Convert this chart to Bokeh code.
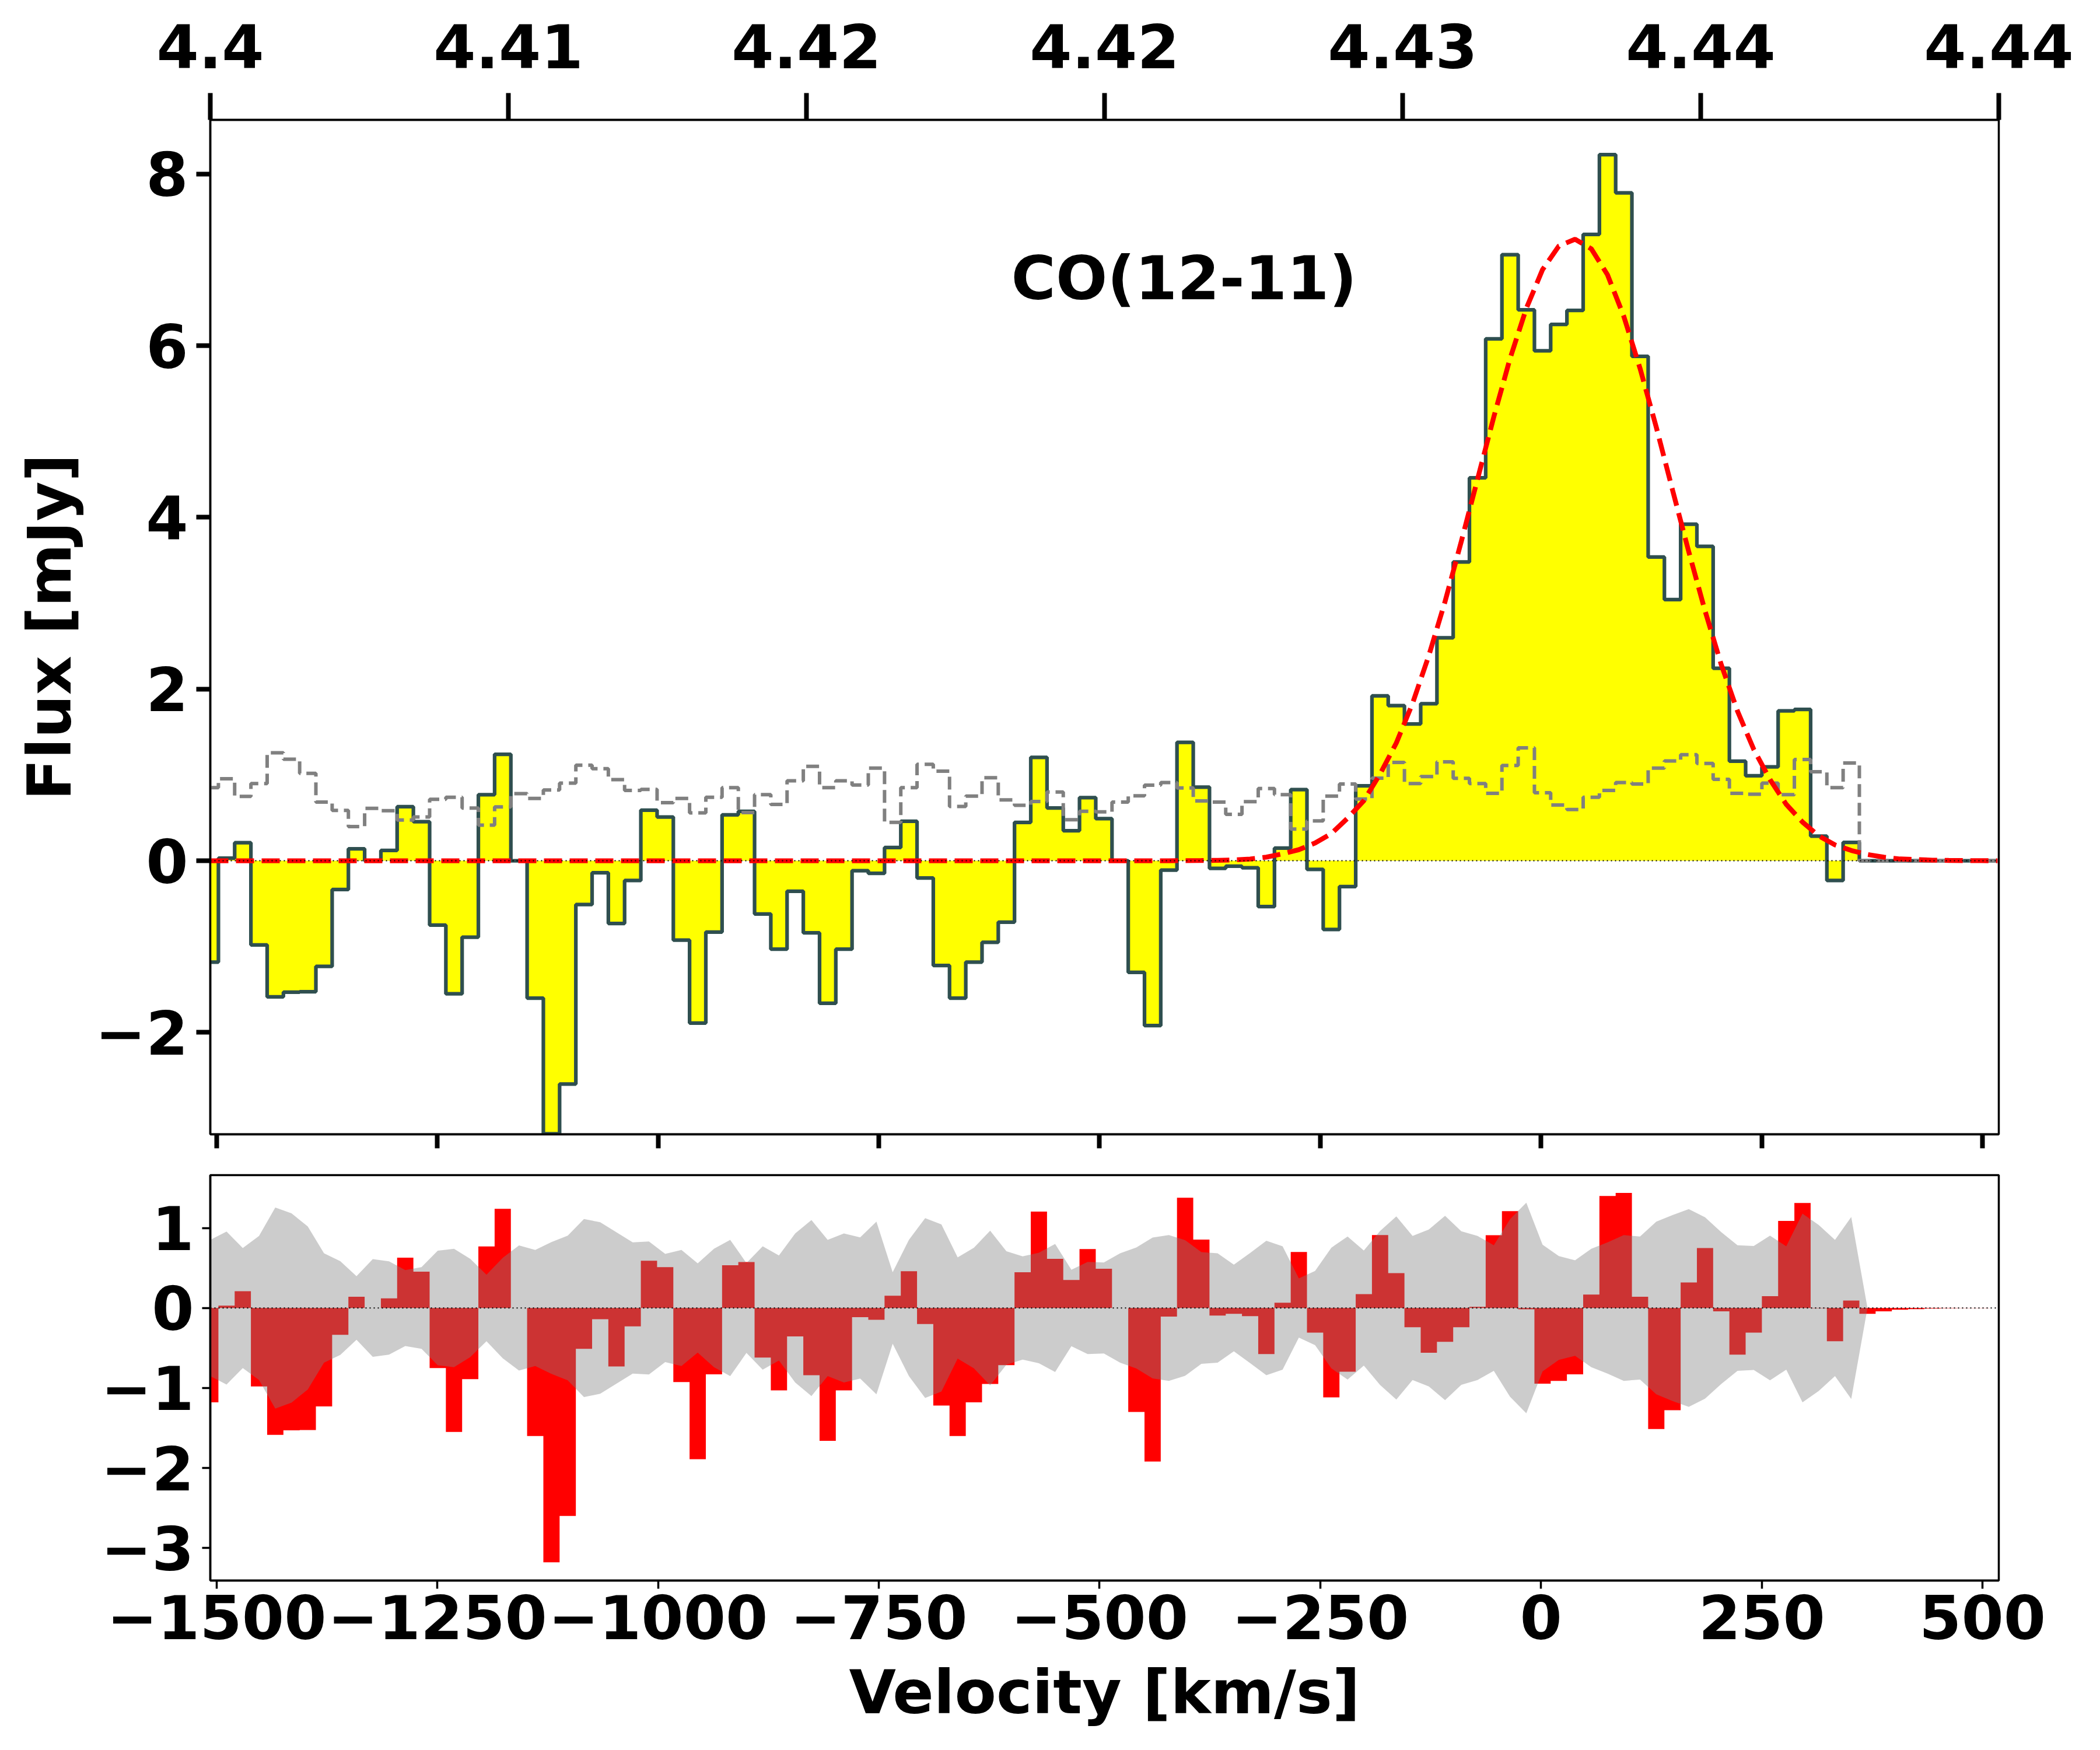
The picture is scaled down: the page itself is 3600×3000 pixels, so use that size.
from bokeh.embed import file_html
from bokeh.layouts import column
from bokeh.models import FixedTicker, Label, LinearAxis, Range1d, Span
from bokeh.plotting import figure
from bokeh.resources import INLINE
import numpy as np

# channel centres in km/s
velocity = [-1507.1, -1488.7, -1470.3, -1451.9, -1433.5, -1415.1, -1396.7, -1378.3, -1359.9, -1341.5,
            -1323.1, -1304.7, -1286.3, -1267.9, -1249.5, -1231.1, -1212.7, -1194.3, -1175.9, -1157.5,
            -1139.1, -1120.7, -1102.3, -1083.9, -1065.5, -1047.1, -1028.7, -1010.3, -991.9, -973.5,
            -955.1, -936.7, -918.3, -899.9, -881.5, -863.1, -844.7, -826.3, -807.9, -789.5,
            -771.1, -752.7, -734.3, -715.9, -697.5, -679.1, -660.7, -642.3, -623.9, -605.5,
            -587.1, -568.7, -550.3, -531.9, -513.5, -495.1, -476.7, -458.3, -439.9, -421.5,
            -403.1, -384.7, -366.3, -347.9, -329.5, -311.1, -292.7, -274.3, -255.9, -237.5,
            -219.1, -200.7, -182.3, -163.9, -145.5, -127.1, -108.7, -90.3, -71.9, -53.5,
            -35.1, -16.7, 1.7, 20.1, 38.5, 56.9, 75.3, 93.7, 112.1, 130.5,
            148.9, 167.3, 185.7, 204.1, 222.5, 240.9, 259.3, 277.7, 296.1, 314.5,
            332.9, 351.3, 369.7, 388.1, 406.5, 424.9, 443.3, 461.7, 480.1, 498.5, 516.9]

flux = [-1.18, 0.03, 0.21, -0.98, -1.585, -1.53, -1.525, -1.23, -0.335, 0.14,
        0.0, 0.12, 0.63, 0.455, -0.75, -1.55, -0.89, 0.77, 1.24, 0.0,
        -1.6, -3.18, -2.60, -0.51, -0.14, -0.73, -0.23, 0.59, 0.51, -0.925,
        -1.89, -0.83, 0.535, 0.575, -0.62, -1.03, -0.355, -0.84, -1.66, -1.03,
        -0.115, -0.147, 0.154, 0.46, -0.20, -1.22, -1.60, -1.18, -0.95, -0.715,
        0.447, 1.205, 0.615, 0.35, 0.736, 0.49, 0.0, -1.30, -1.92, -0.108,
        1.38, 0.858, -0.089, -0.063, -0.081, -0.534, 0.147, 0.829, -0.10, -0.80,
        -0.30, 0.873, 1.921, 1.808, 1.594, 1.83, 2.597, 3.48, 4.46, 6.08,
        7.06, 6.417, 5.94, 6.248, 6.41, 7.296, 8.225, 7.78, 5.876, 3.538,
        3.042, 3.92, 3.662, 2.242, 1.16, 0.99, 1.093, 1.746, 1.763, 0.287,
        -0.23, 0.214, 0.0, 0.0, 0.0, 0.0, 0.0, 0.0, 0.0, 0.0, 0.0]

model = [0.0] * 60 + [
        0.002, 0.003, 0.005, 0.01, 0.02, 0.042, 0.081, 0.129, 0.207, 0.317,
        0.496, 0.70, 1.01, 1.372, 1.834, 2.39, 3.02, 3.72, 4.446, 5.17,
        5.85, 6.434, 6.886, 7.16, 7.24, 7.128, 6.825, 6.342, 5.736, 5.05,
        4.319, 3.6, 2.912, 2.284, 1.743, 1.297, 0.946, 0.657, 0.451, 0.29,
        0.185, 0.12, 0.073, 0.042, 0.021, 0.014, 0.007, 0.004, 0.002, 0.001, 0.0]

noise = [0.852, 0.956, 0.75, 0.90, 1.257, 1.183, 1.019, 0.684, 0.586, 0.398,
         0.611, 0.583, 0.475, 0.51, 0.716, 0.74, 0.614, 0.415, 0.628, 0.782,
         0.726, 0.824, 0.904, 1.113, 1.072, 0.946, 0.82, 0.831, 0.677, 0.726,
         0.558, 0.74, 0.852, 0.562, 0.771, 0.656, 0.932, 1.10, 0.852, 0.932,
         0.883, 1.079, 0.447, 0.852, 1.124, 1.044, 0.632, 0.754, 0.967, 0.709,
         0.646, 0.691, 0.80, 0.478, 0.576, 0.569, 0.684, 0.757, 0.88, 0.911,
         0.848, 0.698, 0.684, 0.541, 0.688, 0.841, 0.771, 0.37, 0.464, 0.754,
         0.894, 0.719, 0.963, 1.145, 0.90, 0.981, 1.152, 0.96, 0.90, 0.785,
         1.11, 1.316, 0.792, 0.649, 0.597, 0.74, 0.82, 0.911, 0.894, 1.079,
         1.162, 1.236, 1.134, 0.949, 0.785, 0.775, 0.904, 0.771, 1.18, 1.037,
         0.852, 1.138, 0.0, 0.0, 0.0, 0.0, 0.0, 0.0, 0.0, 0.0, 0.0]

velocity_ticks = [-1500, -1250, -1000, -750, -500, -250, 0, 250, 500]
flux_ticks = [-2, 0, 2, 4, 6, 8]
residual_ticks = [-3, -2, -1, 0, 1]
redshift_ticks = [4.4, 4.4075, 4.415, 4.4225, 4.43, 4.4375, 4.445]
redshift_labels = ["4.4", "4.41", "4.42", "4.42", "4.43", "4.44", "4.44"]

residual = np.array(flux) - np.array(model)
noise_low = -np.array(noise)

FONT = "DejaVu Sans"
# "bold 100px" trips the svg font parser, so sizes go in pt
SIZE = "78pt"


def minus_labels(ticks):
    return {t: str(t).replace("-", "\u2212") for t in ticks}


def style_axis(ax, tick_width, tick_len):
    ax.axis_line_color = "black"
    ax.axis_line_width = 3.5
    ax.major_tick_line_color = "black"
    ax.major_tick_line_width = tick_width
    ax.major_tick_in = 0
    ax.major_tick_out = tick_len
    ax.minor_tick_line_color = None
    ax.major_label_text_font = FONT
    ax.major_label_text_font_style = "bold"
    ax.major_label_text_font_size = SIZE
    ax.major_label_text_color = "black"
    ax.axis_label_text_font = FONT
    ax.axis_label_text_font_style = "bold"
    ax.axis_label_text_font_size = SIZE
    ax.axis_label_text_color = "black"


# upper panel: spectrum
p = figure(output_backend="svg", toolbar_location=None, frame_width=3066, frame_height=1739,
           x_range=Range1d(-1507.1, 518.4), y_range=Range1d(-3.186, 8.63),
           min_border_left=360, min_border_right=150, min_border_top=205, min_border_bottom=40)
p.grid.visible = False
p.outline_line_color = "black"
p.outline_line_width = 3.5

p.extra_x_ranges = {"z": Range1d(4.4, 4.445)}
top_axis = LinearAxis(x_range_name="z", ticker=FixedTicker(ticks=redshift_ticks),
                      major_label_overrides=dict(zip(redshift_ticks, redshift_labels)))
style_axis(top_axis, 8, 46)
top_axis.major_label_standoff = 43
p.add_layout(top_axis, "above")

p.below[0].ticker = FixedTicker(ticks=velocity_ticks)
style_axis(p.below[0], 8, 24)
p.below[0].major_label_overrides = {t: "" for t in velocity_ticks}
p.below[0].major_label_standoff = 0

p.yaxis.ticker = FixedTicker(ticks=flux_ticks)
p.yaxis.major_label_overrides = minus_labels(flux_ticks)
style_axis(p.yaxis[0], 8, 24)
p.yaxis.major_label_standoff = 14
p.yaxis.axis_label = "Flux [mJy]"
p.yaxis.axis_label_standoff = 14

p.varea_step(x=velocity, y1=[0.0] * len(flux), y2=flux, step_mode="center", fill_color="#ffff00")
p.step(x=velocity, y=flux, mode="center", line_color="#2f4f4f", line_width=6.25)
p.step(x=velocity, y=noise, mode="center", line_color="#808080", line_width=6, line_dash="22 10")
p.add_layout(Span(location=0, dimension="width", line_color="black", line_width=2, line_dash="2 5"))
p.line(x=velocity, y=model, line_color="#ff0000", line_width=8.3, line_dash="31 13")
p.add_layout(Label(x=-600, y=6.785, text="CO(12-11)", text_font=FONT, text_font_style="bold",
                   text_font_size=SIZE, text_color="black", text_baseline="alphabetic"))

# lower panel: residuals with the noise band
r = figure(output_backend="svg", toolbar_location=None, frame_width=3066, frame_height=695,
           x_range=Range1d(-1507.1, 518.4), y_range=Range1d(-3.407, 1.661),
           min_border_left=360, min_border_right=150, min_border_top=30, min_border_bottom=250)
r.grid.visible = False
r.outline_line_color = "black"
r.outline_line_width = 3.5

r.xaxis.ticker = FixedTicker(ticks=velocity_ticks)
r.xaxis.major_label_overrides = minus_labels(velocity_ticks)
style_axis(r.xaxis[0], 3.5, 14)
r.xaxis.major_label_standoff = 10
r.xaxis.axis_label = "Velocity [km/s]"
r.xaxis.axis_label_standoff = 27

r.yaxis.ticker = FixedTicker(ticks=residual_ticks)
r.yaxis.major_label_overrides = minus_labels(residual_ticks)
style_axis(r.yaxis[0], 3.5, 14)
r.yaxis.major_label_standoff = 14

r.varea_step(x=velocity, y1=[0.0] * len(flux), y2=residual, step_mode="center", fill_color="#ff0000")
r.varea(x=velocity, y1=noise_low, y2=noise, fill_color="#808080", fill_alpha=0.4)
r.add_layout(Span(location=0, dimension="width", line_color="black", line_width=2, line_dash="2 5"))

page = column(p, r)
open("out.html", "w").write(file_html(page, INLINE))
